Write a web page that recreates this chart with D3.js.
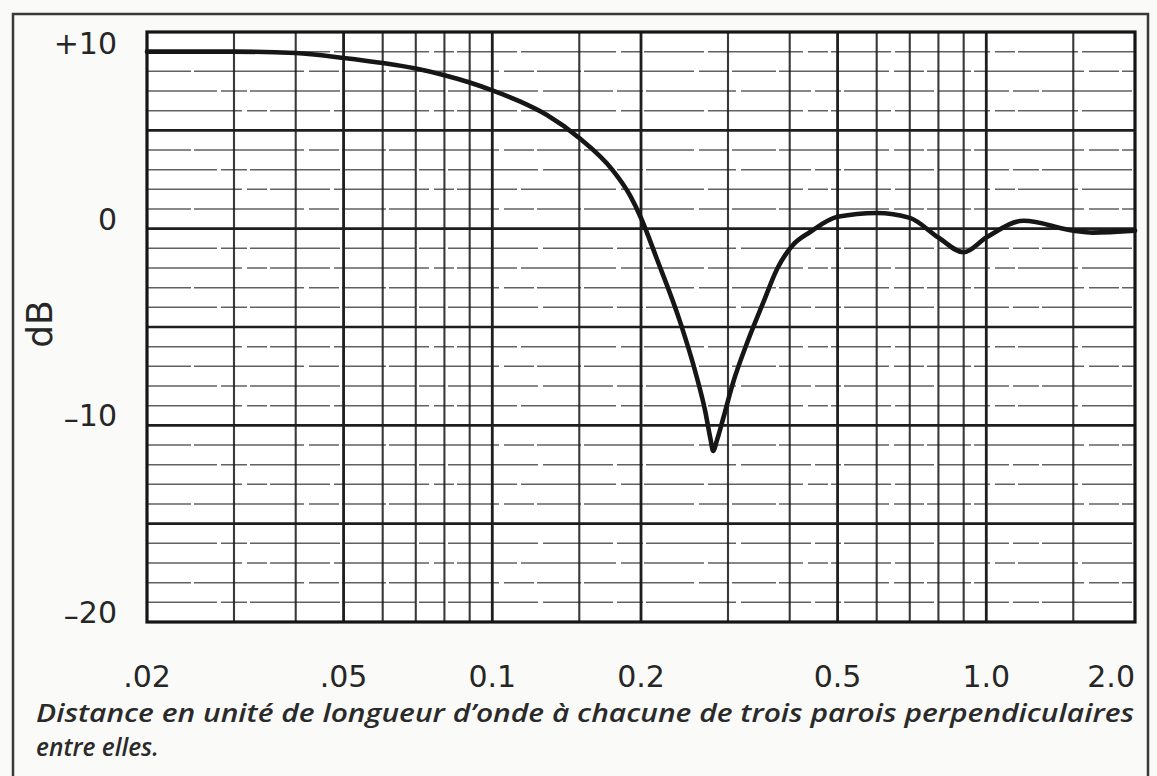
<!DOCTYPE html>
<html>
<head>
<meta charset="utf-8">
<script src="https://cdn.jsdelivr.net/npm/d3@7"></script>
<style>
  html, body { margin: 0; padding: 0; background: #fafaf8; }
  svg { display: block; }
</style>
</head>
<body>
<svg id="chart" width="1157" height="776"></svg>
<script>
// ---- data ----
const distance = [0.02, 0.03, 0.04, 0.05, 0.06, 0.07, 0.08, 0.09, 0.1, 0.114, 0.129, 0.15, 0.175, 0.19, 0.2, 0.215, 0.24, 0.259, 0.27, 0.2765, 0.28, 0.285, 0.293, 0.307, 0.328, 0.353, 0.378, 0.406, 0.44, 0.5, 0.6, 0.7, 0.8, 0.9, 1.0, 1.19, 1.5, 1.64, 2.0];
const levelDb = [9.0, 9.0, 8.93, 8.68, 8.42, 8.14, 7.8, 7.43, 7.03, 6.46, 5.78, 4.61, 2.99, 1.69, 0.54, -1.49, -4.74, -7.49, -9.32, -10.7, -11.3, -10.75, -9.7, -7.85, -5.8, -3.8, -2.0, -0.83, -0.17, 0.6, 0.8, 0.55, -0.45, -1.2, -0.45, 0.4, -0.1, -0.2, -0.1];

const xTickValues = [0.02, 0.05, 0.1, 0.2, 0.5, 1.0, 2.0];
const xTickLabels = [".02", ".05", "0.1", "0.2", "0.5", "1.0", "2.0"];
const xGridValues = [0.03, 0.04, 0.05, 0.06, 0.07, 0.08, 0.09, 0.1, 0.15, 0.2, 0.3, 0.4, 0.5, 0.6, 0.7, 0.8, 0.9, 1.0, 1.5];
const xMajorGrid = [0.05, 0.1, 0.2, 0.5, 1.0];
const yTickValues = [10, 0, -10, -20];
const yTickLabels = ["+10", "0", "–10", "–20"];
const yAxisTitle = "dB";
const captionLines = [
  "Distance en unité de longueur d’onde à chacune de trois parois perpendiculaires",
  "entre elles."
];

// ---- layout ----
const W = 1157, H = 776;
const plot = { left: 147, right: 1135, top: 32, bottom: 622 };

const svg = d3.select("#chart");

const x = d3.scaleLog().domain([0.02, 2.0]).range([plot.left, plot.right]);
const y = d3.scaleLinear().domain([-20, 10]).range([plot.bottom, plot.top]);

// outer frame (open at the bottom, as in the scan)
svg.append("path")
  .attr("d", `M13,${H} V14 H1148 V${H}`)
  .attr("fill", "none")
  .attr("stroke", "#3a3a3a")
  .attr("stroke-width", 2.5);

// plot background
svg.append("rect")
  .attr("x", plot.left).attr("y", plot.top)
  .attr("width", plot.right - plot.left).attr("height", plot.bottom - plot.top)
  .attr("fill", "#ffffff");

const grid = svg.append("g");

// horizontal grid: every 1 dB, heavy every 5 dB
const yGridValues = d3.range(-19, 10, 1);
grid.selectAll("line.hminor")
  .data(yGridValues.filter(d => d % 5 !== 0))
  .join("line")
  .attr("class", "hminor")
  .attr("x1", plot.left).attr("x2", plot.right)
  .attr("y1", d => y(d)).attr("y2", d => y(d))
  .attr("stroke", "#3a3a3a")
  .attr("stroke-opacity", 0.8)
  .attr("stroke-width", 1.5)
  .attr("stroke-dasharray", (d, i) => ["70 4 26 3 90 5", "44 3 110 5 30 3", "95 5 20 3 60 4"][i % 3]);

grid.selectAll("line.hmajor")
  .data(yGridValues.filter(d => d % 5 === 0))
  .join("line")
  .attr("class", "hmajor")
  .attr("x1", plot.left).attr("x2", plot.right)
  .attr("y1", d => y(d)).attr("y2", d => y(d))
  .attr("stroke", "#1e1e1e")
  .attr("stroke-width", 2.6);

// vertical grid
grid.selectAll("line.v")
  .data(xGridValues)
  .join("line")
  .attr("class", "v")
  .attr("x1", d => x(d)).attr("x2", d => x(d))
  .attr("y1", plot.top).attr("y2", plot.bottom)
  .attr("stroke", "#1e1e1e")
  .attr("stroke-opacity", d => xMajorGrid.includes(d) ? 1 : 0.88)
  .attr("stroke-width", d => xMajorGrid.includes(d) ? 2.8 : 2.1);

// plot border
svg.append("rect")
  .attr("x", plot.left).attr("y", plot.top)
  .attr("width", plot.right - plot.left).attr("height", plot.bottom - plot.top)
  .attr("fill", "none")
  .attr("stroke", "#151515")
  .attr("stroke-width", 3.2);

// response curve
const pts = distance.map((d, i) => [d, levelDb[i]]);
const line = d3.line()
  .x(d => x(d[0]))
  .y(d => y(d[1]))
  .curve(d3.curveMonotoneX);

svg.append("path")
  .datum(pts)
  .attr("d", line)
  .attr("fill", "none")
  .attr("stroke", "#161616")
  .attr("stroke-width", 4.6)
  .attr("stroke-linejoin", "round")
  .attr("stroke-linecap", "round");

// y tick labels
const labelFont = "'DejaVu Sans', sans-serif";
const yLab = svg.append("g")
  .attr("font-family", labelFont)
  .attr("font-size", 30)
  .attr("fill", "#262626")
  .attr("text-anchor", "end");

yTickValues.forEach((v, i) => {
  const t = yLab.append("text")
    .attr("x", 117)
    .attr("y", v === d3.max(yTickValues) ? y(v) + 22 : y(v) + 1);
  const lab = yTickLabels[i];
  if (lab.startsWith("–")) {
    t.append("tspan").attr("dy", 3).text("–");
    t.append("tspan").attr("dy", -3).text(lab.slice(1));
  } else {
    t.text(lab);
  }
});

// y axis title
svg.append("text")
  .attr("transform", `translate(52, 324) rotate(-90)`)
  .attr("text-anchor", "middle")
  .attr("font-family", labelFont)
  .attr("font-size", 36)
  .attr("fill", "#262626")
  .text(yAxisTitle);

// x tick labels
svg.append("g")
  .attr("font-family", labelFont)
  .attr("font-size", 30)
  .attr("fill", "#262626")
  .selectAll("text")
  .data(xTickValues)
  .join("text")
  .attr("x", d => x(d))
  .attr("y", 687)
  .attr("text-anchor", (d, i) => i === xTickValues.length - 1 ? "end" : "middle")
  .text((d, i) => xTickLabels[i]);

// caption (two lines)
const cap = svg.append("g")
  .attr("font-family", "'Open Sans', 'Noto Sans', sans-serif")
  .attr("font-style", "italic")
  .attr("font-weight", 600)
  .attr("font-size", 24.5)
  .attr("fill", "#2a2a2a");

cap.append("text")
  .attr("x", 36).attr("y", 722)
  .attr("textLength", 1098)
  .attr("lengthAdjust", "spacingAndGlyphs")
  .text(captionLines[0]);

cap.append("text")
  .attr("x", 36).attr("y", 756)
  .text(captionLines[1]);
</script>
</body>
</html>
